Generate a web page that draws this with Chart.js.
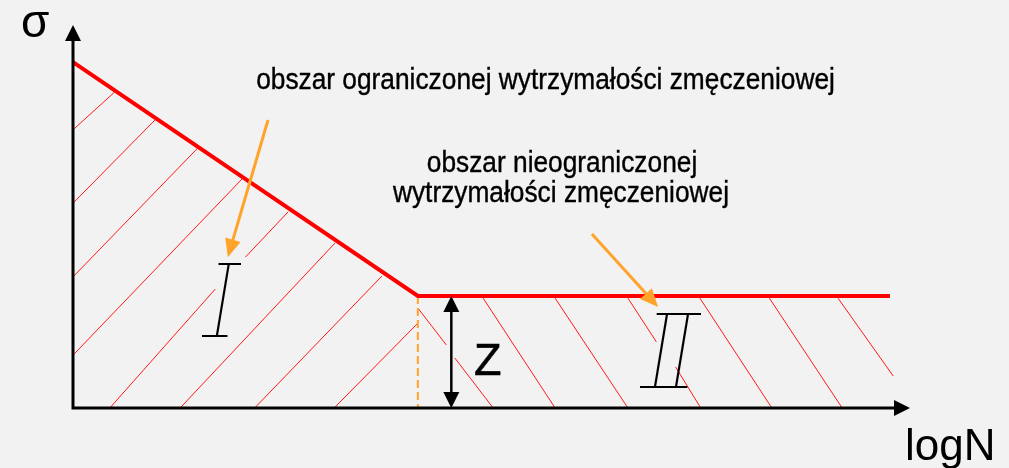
<!DOCTYPE html>
<html><head><meta charset="utf-8">
<script src="https://cdn.jsdelivr.net/npm/chart.js@4/dist/chart.umd.min.js"></script>
<style>html,body{margin:0;padding:0;background:#f2f2f2;overflow:hidden}canvas{display:block}</style>
</head><body>
<canvas id="c" width="1009" height="468"></canvas>
<script>
// Wöhler (S-N) curve schematic: x = logN, y = sigma (arbitrary units 0..10)
const curveLogN  = [0, 4.12, 9.76];
const curveSigma = [9.10, 2.95, 2.95];

// hatching, limited fatigue strength region (segments: x1, y1, x2, y2)
const hatchLimited = [
  [0.00, 7.32, 0.50, 8.32],
  [0.00, 5.39, 0.98, 7.58],
  [0.00, 3.45, 1.49, 6.84],
  [0.00, 1.39, 2.03, 6.05],
  [0.44, 0.00, 1.70, 3.13],
  [2.06, 3.97, 2.57, 5.16],
  [1.28, 0.00, 3.13, 4.34],
  [2.17, 0.00, 3.69, 3.47],
  [3.12, 0.00, 4.11, 2.21]
];
// hatching, unlimited fatigue strength region
const hatchUnlimited = [
  [4.12, 2.63, 4.46, 1.66],
  [4.56, 1.32, 5.02, 0.00],
  [4.90, 2.89, 5.76, 0.00],
  [5.76, 2.89, 6.63, 0.00],
  [6.63, 2.89, 6.97, 1.74],
  [7.20, 1.08, 7.50, 0.00],
  [7.49, 2.89, 8.35, 0.00],
  [8.32, 2.89, 9.19, 0.00],
  [9.14, 2.89, 9.80, 0.84]
];

const kneeLogN = 4.12;
const kneeSigma = 2.95;
const zLogN = 4.52;
const arrowLimited   = [2.33, 7.58, 1.85, 3.97];
const arrowUnlimited = [6.20, 4.58, 6.99, 2.66];

const axisMax = 10;
const yAxisLabel = 'σ';
const xAxisLabel = 'logN';
const labelLimited = 'obszar ograniczonej wytrzymałości zmęczeniowej';
const labelUnlimited = ['obszar nieograniczonej', 'wytrzymałości zmęczeniowej'];
const zLabel = 'Z';
const romanLimited = 'I';
const romanUnlimited = 'II';

function segData(segs) {
  const out = [];
  segs.forEach(s => { out.push({x: s[0], y: s[1]}, {x: s[2], y: s[3]}, {x: s[2], y: null}); });
  return out;
}

const SANS = '"Liberation Sans", Arial, sans-serif';
const ORANGE = '#ffa32b';

function arrowHead(ctx, x1, y1, x2, y2, len, half, color) {
  const a = Math.atan2(y2 - y1, x2 - x1);
  ctx.save();
  ctx.fillStyle = color;
  ctx.beginPath();
  ctx.moveTo(x2, y2);
  ctx.lineTo(x2 - len * Math.cos(a) + half * Math.sin(a), y2 - len * Math.sin(a) - half * Math.cos(a));
  ctx.lineTo(x2 - len * Math.cos(a) - half * Math.sin(a), y2 - len * Math.sin(a) + half * Math.cos(a));
  ctx.closePath();
  ctx.fill();
  ctx.restore();
}

function stretchedText(ctx, txt, x, y, sy) {
  ctx.save();
  ctx.translate(x, y); ctx.scale(1, sy);
  ctx.fillText(txt, 0, 0);
  ctx.strokeStyle = '#000'; ctx.lineWidth = 0.35;
  ctx.strokeText(txt, 0, 0);
  ctx.restore();
}

// Roman numeral: thin italic text with serif bars
function roman(ctx, txt, left, baseline, capH, spacing) {
  ctx.save();
  const size = capH / 0.727;
  ctx.font = 'italic 100 ' + size + 'px Inter, "DejaVu Sans", sans-serif';
  ctx.letterSpacing = spacing + 'px';
  ctx.textAlign = 'left';
  ctx.textBaseline = 'alphabetic';
  ctx.fillStyle = '#000';
  const m = ctx.measureText(txt);
  const x0 = left + m.actualBoundingBoxLeft;
  ctx.fillText(txt, x0, baseline);
  const bl = left, br = left + m.actualBoundingBoxLeft + m.actualBoundingBoxRight;
  const slant = capH * 0.16;
  ctx.strokeStyle = '#000';
  ctx.lineWidth = 2;
  ctx.beginPath();
  ctx.moveTo(bl + slant - 8, baseline - capH); ctx.lineTo(br + 11, baseline - capH);
  ctx.moveTo(bl - 13, baseline); ctx.lineTo(br - slant + 9, baseline);
  ctx.stroke();
  ctx.restore();
}

const decor = {
  id: 'decor',
  beforeDraw(chart) {
    const ctx = chart.ctx;
    ctx.save();
    ctx.fillStyle = '#f2f2f2';
    ctx.fillRect(0, 0, chart.width, chart.height);
    ctx.restore();
  },
  afterDatasetsDraw(chart) {
    const ctx = chart.ctx, xs = chart.scales.x, ys = chart.scales.y;
    const X = v => xs.getPixelForValue(v), Y = v => ys.getPixelForValue(v);
    ctx.save();
    // axes
    ctx.strokeStyle = '#000'; ctx.lineWidth = 3; ctx.lineCap = 'butt';
    ctx.beginPath();
    ctx.moveTo(X(0), Y(0) + 1.5); ctx.lineTo(X(0), Y(axisMax) + 10);
    ctx.moveTo(X(0) - 1.5, Y(0)); ctx.lineTo(X(axisMax) - 12, Y(0));
    ctx.stroke();
    arrowHead(ctx, X(0), Y(0), X(0), Y(axisMax) - 3, 16, 8, '#000');
    arrowHead(ctx, X(0), Y(0), X(axisMax), Y(0), 16, 8, '#000');

    // Z dimension arrow
    ctx.lineWidth = 2.5;
    ctx.beginPath();
    ctx.moveTo(X(zLogN), Y(kneeSigma) + 10); ctx.lineTo(X(zLogN), Y(0) - 10);
    ctx.stroke();
    arrowHead(ctx, X(zLogN), Y(0), X(zLogN), Y(kneeSigma), 16, 8, '#000');
    arrowHead(ctx, X(zLogN), Y(kneeSigma), X(zLogN), Y(0), 16, 8, '#000');

    // orange pointer arrows
    [arrowLimited, arrowUnlimited].forEach(a => {
      const x1 = X(a[0]), y1 = Y(a[1]), x2 = X(a[2]), y2 = Y(a[3]);
      const ang = Math.atan2(y2 - y1, x2 - x1);
      ctx.strokeStyle = ORANGE; ctx.lineWidth = 3;
      ctx.beginPath();
      ctx.moveTo(x1, y1); ctx.lineTo(x2 - 12 * Math.cos(ang), y2 - 12 * Math.sin(ang));
      ctx.stroke();
      arrowHead(ctx, x1, y1, x2, y2, 18, 8, ORANGE);
    });

    // texts
    ctx.fillStyle = '#000';
    ctx.textBaseline = 'alphabetic';
    ctx.textAlign = 'left';
    ctx.font = '46px ' + SANS;
    ctx.fillText(yAxisLabel, 21, 37);
    ctx.font = '44px ' + SANS;
    ctx.fillText(xAxisLabel, 905, 460);
    ctx.font = '45px ' + SANS;
    ctx.fillText(zLabel, 474, 375);
    ctx.strokeStyle = '#000'; ctx.lineWidth = 0.6;
    ctx.strokeText(zLabel, 474, 375);

    ctx.font = '26.3px ' + SANS;
    ctx.textAlign = 'center';
    stretchedText(ctx, labelLimited, 545.5, 89, 1.1);
    stretchedText(ctx, labelUnlimited[0], 562, 172, 1.1);
    stretchedText(ctx, labelUnlimited[1], 561, 202, 1.1);

    roman(ctx, romanLimited, 215, 336, 72, 0);
    roman(ctx, romanUnlimited, 653, 387, 73, -4);
    ctx.restore();
  }
};

new Chart(document.getElementById('c'), {
  type: 'line',
  data: {
    datasets: [
      { data: segData(hatchLimited), borderColor: '#ff1a1a', borderWidth: 1, pointRadius: 0, spanGaps: false, order: 3 },
      { data: segData(hatchUnlimited), borderColor: '#ff1a1a', borderWidth: 1, pointRadius: 0, spanGaps: false, order: 3 },
      { data: [{x: kneeLogN, y: kneeSigma}, {x: kneeLogN, y: 0}], borderColor: ORANGE, borderWidth: 2, borderDash: [8, 4], pointRadius: 0, order: 2 },
      { data: curveLogN.map((v, i) => ({x: v, y: curveSigma[i]})), borderColor: '#ff0000', borderWidth: 4, pointRadius: 0, borderJoinStyle: 'miter', order: 1 }
    ]
  },
  options: {
    responsive: false,
    animation: false,
    parsing: false,
    layout: { padding: { left: 73, right: 99, top: 28, bottom: 60 } },
    plugins: { legend: { display: false }, tooltip: { enabled: false }, title: { display: false } },
    scales: {
      x: { type: 'linear', min: 0, max: axisMax, display: false },
      y: { type: 'linear', min: 0, max: axisMax, display: false }
    },
    elements: { line: { tension: 0 } }
  },
  plugins: [decor]
});
</script>
</body></html>
